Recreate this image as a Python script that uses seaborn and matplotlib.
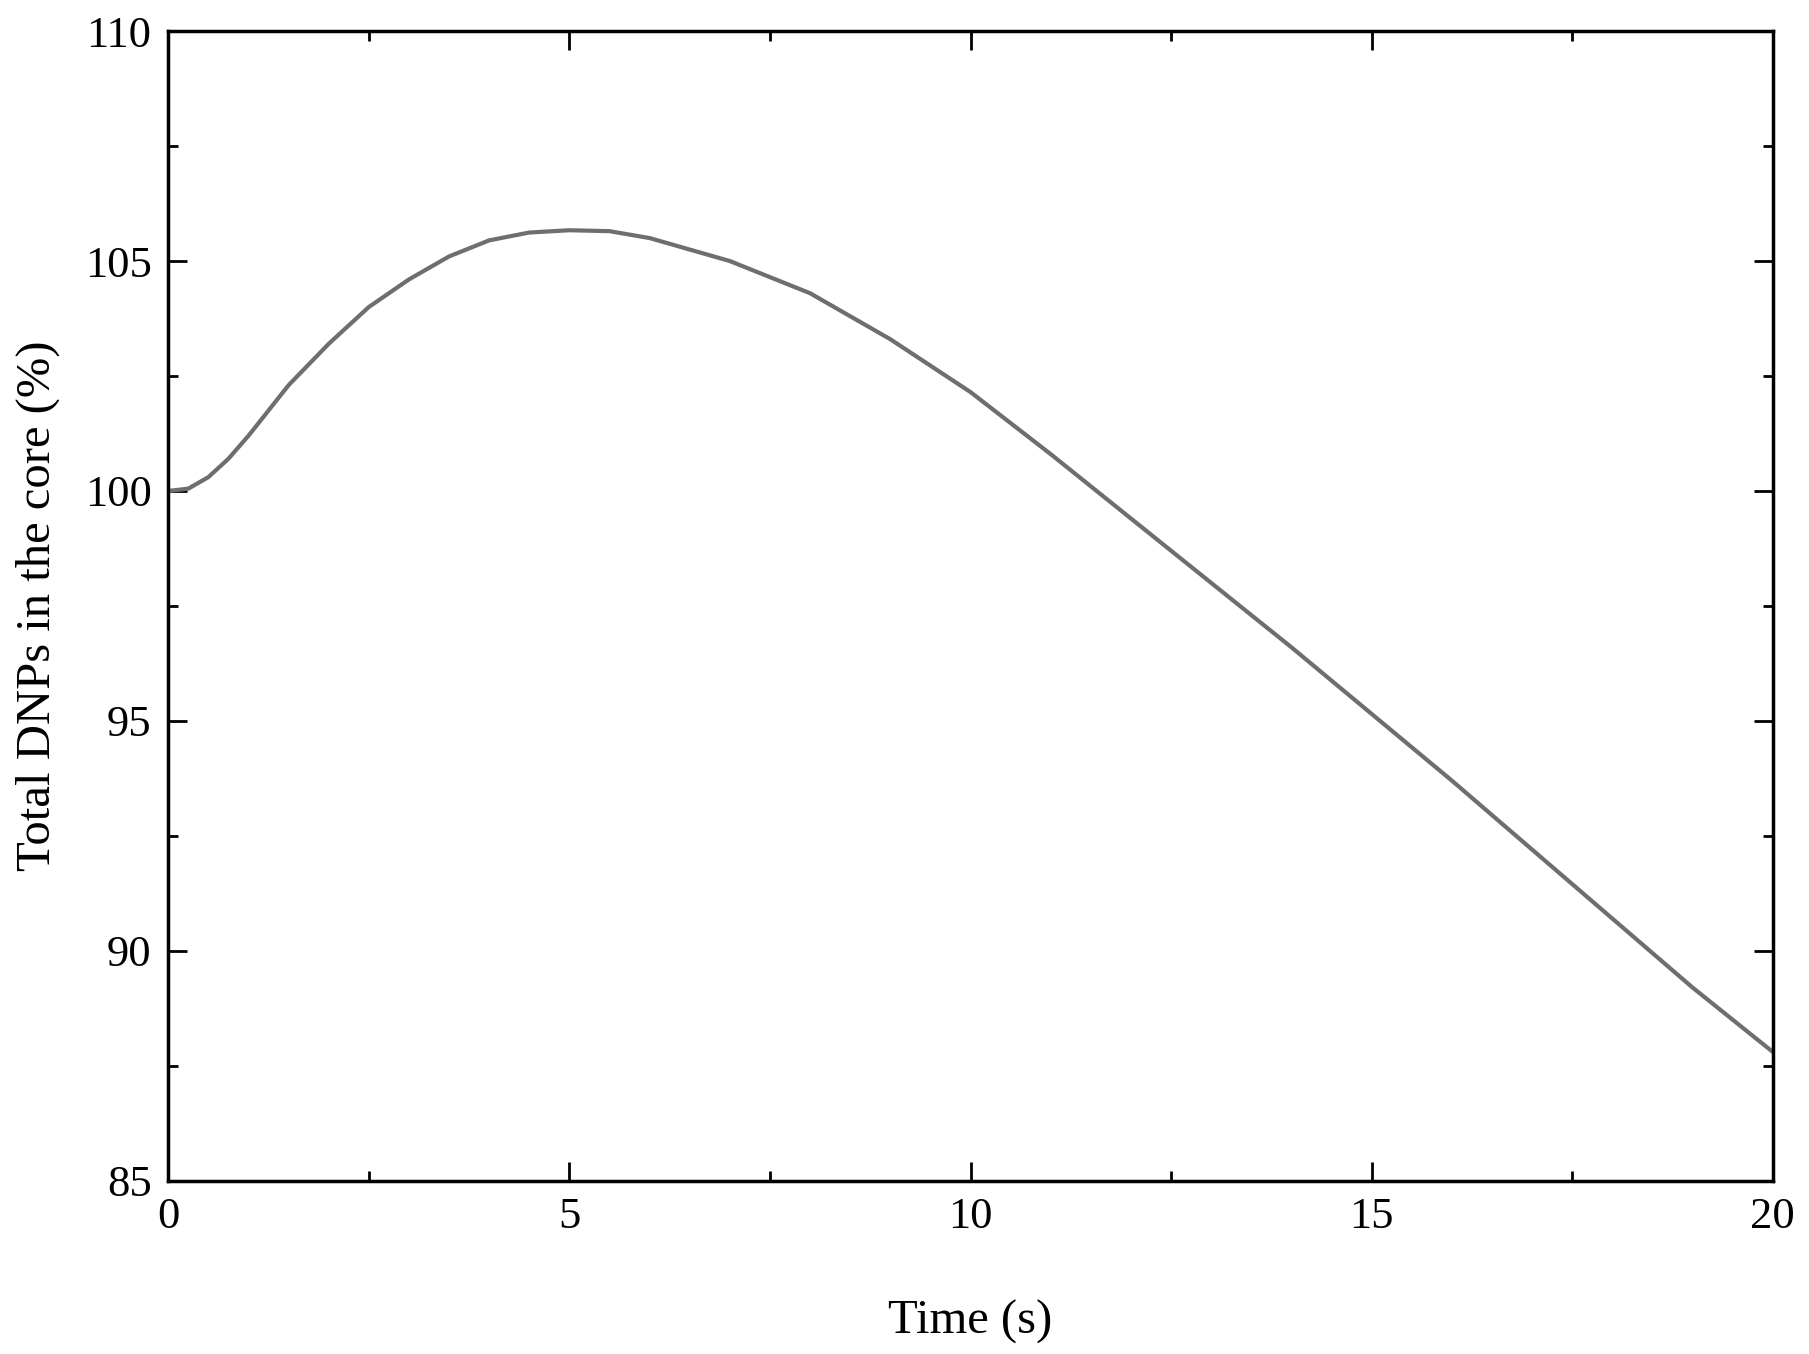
import matplotlib
matplotlib.use("Agg")
import matplotlib.pyplot as plt
import seaborn as sns
import pandas as pd
from matplotlib.ticker import MultipleLocator

time_s = [0, 0.25, 0.5, 0.75, 1, 1.5, 2, 2.5, 3, 3.5, 4, 4.5, 5, 5.5, 6, 7, 8, 9, 10, 11, 12, 13, 14, 15, 16, 17, 18, 19, 20]
dnps = [100, 100.05, 100.3, 100.7, 101.2, 102.3, 103.2, 104.0, 104.6, 105.1, 105.45, 105.62, 105.67, 105.65, 105.5, 105.0, 104.3, 103.3, 102.15, 100.8, 99.4, 98.0, 96.6, 95.15, 93.7, 92.2, 90.7, 89.2, 87.8]

sns.set_style("ticks")
plt.rcParams['font.family'] = ['Liberation Serif', 'DejaVu Serif']
plt.rcParams['text.color'] = 'black'
plt.rcParams['axes.labelcolor'] = 'black'
plt.rcParams['xtick.color'] = 'black'
plt.rcParams['ytick.color'] = 'black'
plt.rcParams['axes.edgecolor'] = 'black'
df = pd.DataFrame({"t": time_s, "v": dnps})
fig = plt.figure(figsize=(18.09, 13.54), dpi=100)
ax = fig.add_axes([0.093, 0.128, 0.887, 0.849])
sns.lineplot(data=df, x="t", y="v", ax=ax, color="#6e6e6e", linewidth=3)
ax.set_xlim(0, 20)
ax.set_ylim(85, 110)
ax.xaxis.set_major_locator(MultipleLocator(5))
ax.xaxis.set_minor_locator(MultipleLocator(2.5))
ax.yaxis.set_major_locator(MultipleLocator(5))
ax.yaxis.set_minor_locator(MultipleLocator(2.5))
ax.tick_params(which='both', direction='in', top=True, right=True, labelsize=32, width=2, pad=12)
ax.tick_params(which='major', length=14)
ax.tick_params(which='minor', length=7)
for s in ax.spines.values():
    s.set_linewidth(2.5)
ax.set_xlabel("Time (s)", fontsize=35, labelpad=45)
ax.set_ylabel("Total DNPs in the core (%)", fontsize=35, labelpad=18)
fig.savefig("out.png", dpi=100)
